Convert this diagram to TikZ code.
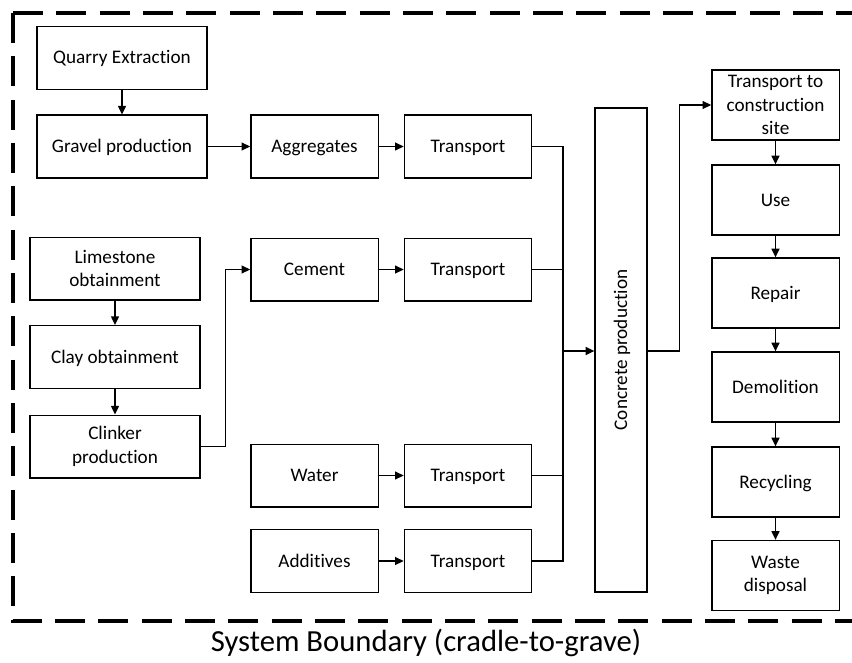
\documentclass[tikz,border=0pt]{standalone}
\usepackage{fontspec}
\setmainfont{Carlito}[Ligatures=NoCommon]
\usetikzlibrary{arrows.meta}

\tikzset{
  box/.style={draw, line width=1pt, align=center, inner sep=2pt,
    font=\fontsize{14.4}{17.5}\selectfont},
  oneline/.style={text height=12pt, text depth=3pt},
  wide/.style={box, minimum width=127.5pt, minimum height=47pt},
  mid/.style={box, oneline, minimum width=95.5pt, minimum height=47pt},
  tall/.style={box, minimum width=95.5pt, minimum height=52.5pt},
  link/.style={line width=1pt},
  arr/.style={link, -{Triangle[length=6.5pt,width=6pt]}},
  boundary/.style={line width=3.2pt, dash pattern=on 22.5pt off 10pt},
}

\begin{document}
\begin{tikzpicture}[x=0.75pt,y=-0.75pt]
	\useasboundingbox (0,0) rectangle (852,663);
	
	%SYSTEM BOUNDARY
	\draw[boundary] (13,13) -- (13,621) -- (860,621);
	\draw[boundary] (13,13) -- (860,13);
	\node[font=\fontsize{23}{27}\selectfont] (cap) at (426,643) {System Boundary (cradle-to-grave)};
	
	%AGGREGATES
	\node[wide, oneline] (quarry) at (122,58) {Quarry Extraction};
	\node[wide, oneline] (gravel) at (122,146.5) {Gravel production};
	\node[mid] (aggr) at (314.5,146.5) {Aggregates};
	\node[mid] (tra) at (468,146.5) {Transport};
	
	%CEMENT
	\node[wide] (lime) at (115,268.5) {Limestone\\obtainment};
	\node[wide, oneline] (clay) at (115,357) {Clay obtainment};
	\node[wide] (clinker) at (115,446.5) {Clinker\\production};
	\node[mid] (cement) at (314.5,269.5) {Cement};
	\node[mid] (trc) at (468,269.5) {Transport};
	
	%WATER, ADDITIVES
	\node[mid] (water) at (314.5,475.5) {Water};
	\node[mid] (trw) at (468,475.5) {Transport};
	\node[mid] (addi) at (314.5,561) {Additives};
	\node[mid] (trd) at (468,561) {Transport};
	
	%CONCRETE
	\node[box, oneline, rotate=90, minimum width=363pt, minimum height=39pt] (concrete) at (621,350) {Concrete production};
	\coordinate (bus) at (563,351);
	
	%LIFE CYCLE
	\node[tall] (site) at (775.5,105) {Transport to\\construction\\site};
	\node[tall, oneline] (use) at (775.5,200) {Use};
	\node[tall, oneline] (repair) at (775.5,293) {Repair};
	\node[tall, oneline] (demo) at (775.5,387) {Demolition};
	\node[tall, oneline] (recy) at (775.5,482) {Recycling};
	\node[tall] (waste) at (775.5,575.5) {Waste\\disposal};
	
	%LINKS
	\draw[arr] (quarry) -- (gravel);
	\draw[arr] (gravel) -- (aggr);
	\draw[arr] (aggr) -- (tra);
	\draw[arr] (lime) -- (clay);
	\draw[arr] (clay) -- (clinker);
	\draw[arr] (clinker.east) -- ++(25,0) |- (cement.west);
	\draw[arr] (cement) -- (trc);
	\draw[arr] (water) -- (trw);
	\draw[arr] (addi) -- (trd);
	\draw[link] (tra.east) -| (bus);
	\draw[link] (trc.east) -| (bus);
	\draw[link] (trw.east) -| (bus);
	\draw[link] (trd.east) -| (bus);
	\draw[arr] (bus) -- (bus -| concrete.north);
	\draw[arr] (concrete.south |- bus) -- ++(32,0) |- (site.west);
	\draw[arr] (site) -- (use);
	\draw[arr] (use) -- (repair);
	\draw[arr] (repair) -- (demo);
	\draw[arr] (demo) -- (recy);
	\draw[arr] (recy) -- (waste);
	
\end{tikzpicture}
\end{document}
